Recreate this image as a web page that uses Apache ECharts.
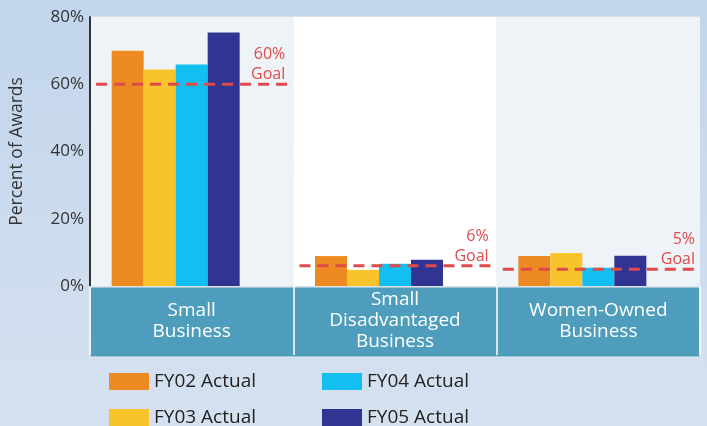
<!DOCTYPE html>
<html>
<head>
<meta charset="utf-8">
<script src="https://cdn.jsdelivr.net/npm/echarts@6/dist/echarts.min.js"></script>
<style>
html,body{margin:0;padding:0;}
#main{width:707px;height:426px;}
</style>
</head>
<body>
<div id="main"></div>
<script>
var categories = ['Small\nBusiness', 'Small\nDisadvantaged\nBusiness', 'Women-Owned\nBusiness'];
var seriesNames = ['FY02 Actual', 'FY03 Actual', 'FY04 Actual', 'FY05 Actual'];
var fy02 = [70, 8.9, 8.9];
var fy03 = [64.4, 4.8, 9.8];
var fy04 = [65.9, 6.6, 5.4];
var fy05 = [75.4, 7.8, 9.0];
var goals = [60, 6, 5];
var goalLabels = ['60%\nGoal', '6%\nGoal', '5%\nGoal'];
var yTicks = [0, 20, 40, 60, 80];

var FONT = '"Open Sans", "Noto Sans", sans-serif';
var colors = ['#ee8a22', '#f8c32b', '#13bff0', '#303594'];
var values = [fy02, fy03, fy04, fy05];

var series = [];
values.forEach(function (v, i) {
  series.push({
    name: seriesNames[i], type: 'bar', data: v,
    barWidth: 32, barGap: '0%',
    itemStyle: { color: colors[i] }
  });
});
// empty slot that keeps bars left of centre (room for goal labels)
series.push({ name: 'spacer', type: 'bar', data: ['-', '-', '-'], barWidth: 32, barGap: '0%' });

goals.forEach(function (g, i) {
  var x1 = i + 0.03, x2 = (i === goals.length - 1) ? i + 1 : i + 0.985;
  series.push({
    type: 'line', xAxisIndex: 1, symbol: 'circle', symbolSize: 1, showSymbol: true, silent: true,
    itemStyle: { color: 'rgba(0,0,0,0)' },
    data: [{ value: [x1, g] }, {
      value: [x2, g],
      label: {
        show: true, position: 'top', align: 'right', distance: 0,
        offset: [-5, 1],
        formatter: goalLabels[i], color: '#df4a4a',
        fontSize: 16, lineHeight: 20, fontFamily: FONT
      }
    }],
    lineStyle: { color: '#df4a4a', width: 3, type: [11, 7] },
    z: 4
  });
});

var legendCommon = {
  orient: 'horizontal', width: 180, top: 367, itemWidth: 40, itemHeight: 17, itemGap: 17,
  icon: 'rect',
  textStyle: { fontSize: 19, color: '#222', fontFamily: FONT }
};

var chart = echarts.init(document.getElementById('main'));
chart.setOption({
  animation: false,
  backgroundColor: {
    type: 'linear', x: 0, y: 0, x2: 0, y2: 1,
    colorStops: [{ offset: 0, color: '#c2d5ec' }, { offset: 1, color: '#d5e1f0' }]
  },
  graphic: [{
    type: 'rect', z: -10,
    shape: { x: 90, y: 287, width: 610, height: 70 },
    style: { fill: '#4f9dbc', stroke: '#e6eef5', lineWidth: 1 }
  }],
  grid: { left: 90, right: 7, top: 17, bottom: 140 },
  legend: [
    Object.assign({ data: ['FY02 Actual', 'FY03 Actual'], left: 104 }, legendCommon),
    Object.assign({ data: ['FY04 Actual', 'FY05 Actual'], left: 317 }, legendCommon)
  ],
  xAxis: [{
    type: 'category', data: categories,
    axisLine: { show: false },
    axisTick: { show: true, length: 69, lineStyle: { color: '#ffffff', width: 1.5 } },
    axisLabel: {
      color: '#ffffff', fontSize: 19, lineHeight: 21, fontFamily: FONT,
      verticalAlign: 'middle', margin: 35, interval: 0
    },
    splitArea: { show: true, areaStyle: { color: ['#eef3f7', '#ffffff'] } }
  }, {
    type: 'value', min: 0, max: 3, show: false
  }],
  yAxis: {
    type: 'value', min: 0, max: 80, interval: 20,
    name: 'Percent of Awards', nameLocation: 'middle', nameGap: 64,
    nameTextStyle: { fontSize: 17.5, color: '#333', fontFamily: FONT },
    axisLine: { show: true, lineStyle: { color: '#333', width: 2 } },
    axisTick: { show: false },
    axisLabel: {
      formatter: function (v) { return yTicks.indexOf(v) >= 0 ? v + '%' : ''; },
      fontSize: 17, color: '#333', margin: 6, fontFamily: FONT
    },
    splitLine: { lineStyle: { color: '#dcdfe4', width: 2 } }
  },
  series: series
});
</script>
</body>
</html>
